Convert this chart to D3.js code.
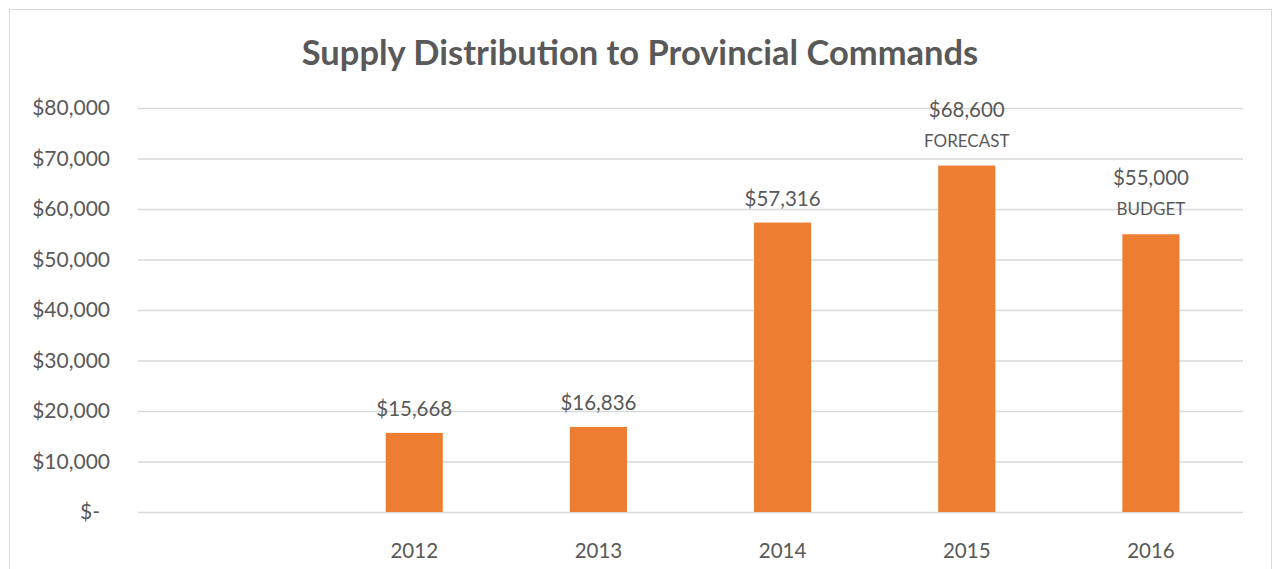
<!DOCTYPE html>
<html>
<head>
<meta charset="utf-8">
<script src="https://cdn.jsdelivr.net/npm/d3@7"></script>
<style>
  html, body { margin: 0; padding: 0; background: #fff; }
  svg { display: block; font-family: Lato, "Open Sans", sans-serif; }
</style>
</head>
<body>
<svg id="svg" width="1276" height="569"></svg>
<script>
// chart data
const years = ["", "2012", "2013", "2014", "2015", "2016"];
const values = [null, 15668, 16836, 57316, 68600, 55000];
const notes = ["", "", "", "", "FORECAST", "BUDGET"];
const yTicks = [0, 10000, 20000, 30000, 40000, 50000, 60000, 70000, 80000];

const width = 1276,
    height = 569;
const margin = { left: 138, right: 33, top: 108, bottom: 57 };
const textColor = '#595959';

const svg = d3.select('#svg');

// outer frame
svg.append('rect')
    .attr('x', 9.5).attr('y', 9.5)
    .attr('width', 1262).attr('height', 580)
    .attr('fill', 'none')
    .attr('stroke', '#d9d9d9')
    .attr('stroke-width', 1);

svg.append('text')
    .attr('x', 640).attr('y', 65)
    .attr('text-anchor', 'middle')
    .attr('font-size', 34.5)
    .attr('font-weight', 'bold')
    .attr('fill', textColor)
    .text('Supply Distribution to Provincial Commands');

const x = d3.scaleBand()
    .domain(years)
    .range([margin.left, width - margin.right])
    .paddingInner(0.69)
    .paddingOuter(0.345);

const y = d3.scaleLinear()
    .domain([0, 80000])
    .range([height - margin.bottom, margin.top]);

const fmt = d3.format('$,');

// gridlines + y labels
const yAxis = svg.append('g')
    .attr('transform', `translate(${margin.left},0)`)
    .call(d3.axisLeft(y)
        .tickValues(yTicks)
        .tickSize(-(width - margin.left - margin.right))
        .tickPadding(28)
        .tickFormat(d => d === 0 ? '$-' : fmt(d)));
yAxis.select('.domain').remove();
yAxis.selectAll('.tick line')
    .attr('stroke', '#d9d9d9')
    .attr('stroke-width', 1.3);
yAxis.selectAll('.tick text')
    .attr('fill', textColor)
    .attr('font-size', 21)
    .attr('font-family', 'Lato, sans-serif')
    .attr('dx', d => d === 0 ? -10 : 0);

// x labels
const xAxis = svg.append('g')
    .attr('transform', `translate(0,${height - margin.bottom})`)
    .call(d3.axisBottom(x).tickSize(0).tickPadding(31));
xAxis.select('.domain').remove();
xAxis.selectAll('.tick text')
    .attr('fill', textColor)
    .attr('font-size', 20.5)
    .attr('font-family', 'Lato, sans-serif');

const data = years.map((yr, i) => ({ year: yr, value: values[i], note: notes[i] }))
    .filter(d => d.value != null);

svg.append('g')
    .selectAll('rect')
    .data(data)
    .join('rect')
    .attr('x', d => x(d.year))
    .attr('width', x.bandwidth())
    .attr('y', d => y(d.value))
    .attr('height', d => y(0) - y(d.value))
    .attr('fill', '#ED7D31');

const labels = svg.append('g')
    .selectAll('g')
    .data(data)
    .join('g')
    .attr('transform', d => `translate(${x(d.year) + x.bandwidth() / 2},${y(d.value)})`);

labels.append('text')
    .attr('text-anchor', 'middle')
    .attr('y', d => d.note ? -49 : -17)
    .attr('font-size', 20.5)
    .attr('fill', textColor)
    .text(d => fmt(d.value));

labels.filter(d => d.note)
    .append('text')
    .attr('text-anchor', 'middle')
    .attr('y', -19)
    .attr('font-size', 17)
    .attr('fill', textColor)
    .text(d => d.note);
</script>
</body>
</html>
